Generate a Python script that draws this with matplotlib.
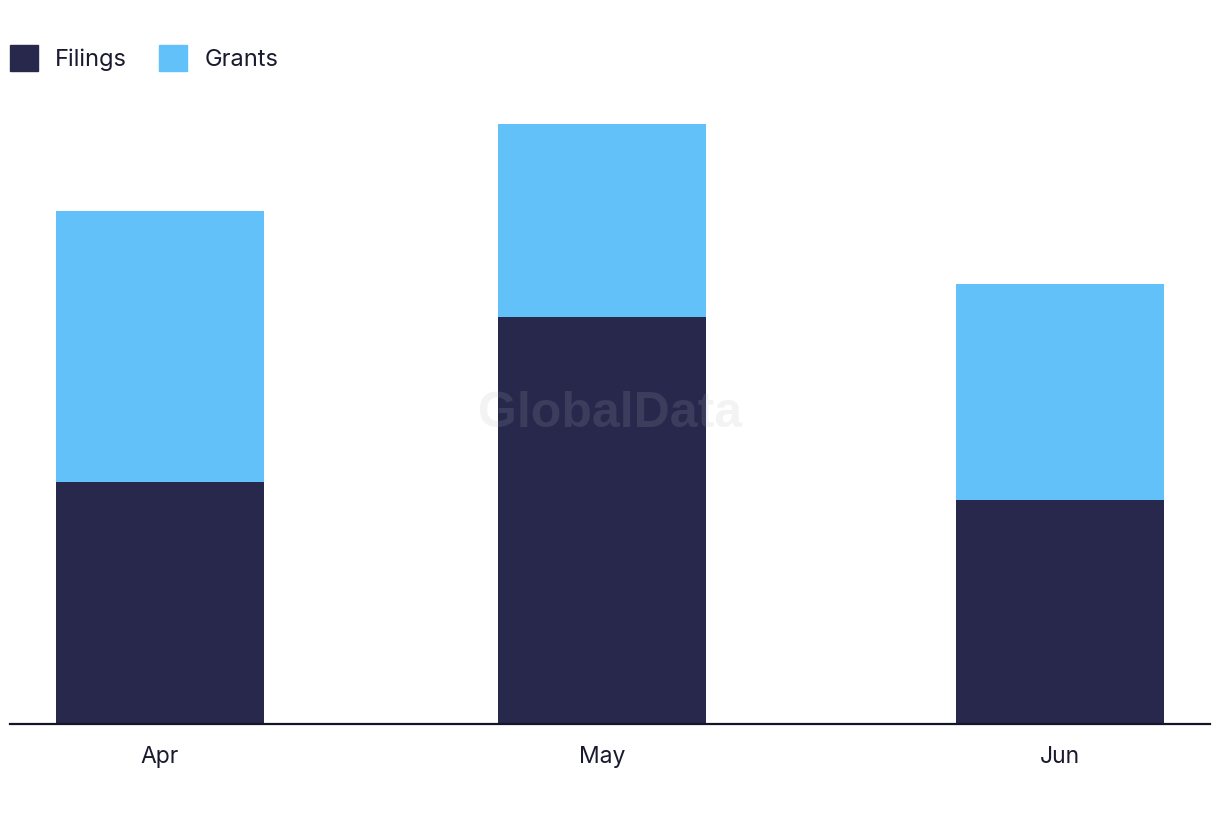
import datetime as dt
import matplotlib
matplotlib.use('Agg')
import matplotlib.pyplot as plt
import matplotlib.dates as mdates
from matplotlib.patches import Patch

# data
months = [dt.date(2023, 4, 1), dt.date(2023, 5, 1), dt.date(2023, 6, 1)]
month_labels = ['Apr', 'May', 'Jun']
filings = [59.5, 100, 55]
grants = [66.5, 47.5, 53]

c_fil = '#28284c'
c_gra = '#62c1f8'

plt.rcParams['font.family'] = ['Inter', 'DejaVu Sans']

fig = plt.figure(figsize=(12.2, 8.22), dpi=100)
ax = fig.add_axes([10/1220, 1-724/822, 1200/1220, 624/822])

x = mdates.date2num(months)
w = 14.1
ax.bar(x, filings, width=w, color=c_fil, zorder=2)
ax.bar(x, grants, width=w, bottom=filings, color=c_gra, zorder=2)

ax.set_xlim(x[0] - 10.17, x[0] + 71.19)
ax.set_ylim(0, 153.3)
ax.set_xticks(x)
ax.set_xticklabels(month_labels, fontsize=16.5, color='#1a1a2e')
ax.tick_params(axis='x', length=0, pad=16)
ax.set_yticks([])
for s in ['top', 'right', 'left']:
    ax.spines[s].set_visible(False)
ax.spines['bottom'].set_linewidth(1.6)
ax.spines['bottom'].set_color('#15152a')
ax.spines['bottom'].set_zorder(3)

# watermark
ax.text(0.5, 0.497, 'GlobalData', transform=ax.transAxes, ha='center', va='center',
        fontsize=36, fontweight='bold', family='Liberation Sans',
        color='#b0b0b8', alpha=0.15, zorder=4)

handles = [Patch(color=c_fil, label='Filings'), Patch(color=c_gra, label='Grants')]
fig.legend(handles=handles, loc='upper left', bbox_to_anchor=(10/1220, 1-45/822),
           ncol=2, frameon=False, fontsize=17, handlelength=1.19, handleheight=1.3,
           handletextpad=0.72, columnspacing=1.36, borderpad=0, borderaxespad=0,
           labelcolor='#1a1a2e')

fig.savefig('out.png', dpi=100)
